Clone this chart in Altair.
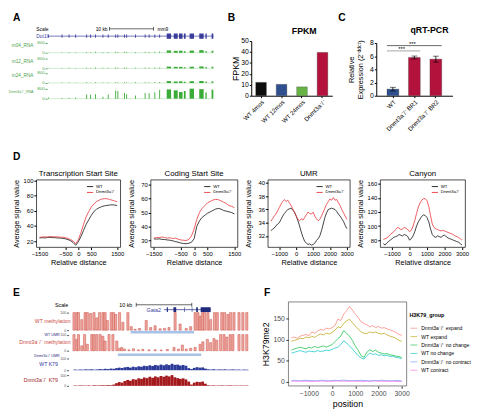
import altair as alt
import pandas as pd

FONT = "Liberation Sans"
KO = "Dnmt3a\u207b/\u207b"

# ================= DATA =================
# --- A: Dot1l RNA-seq browser (positions in kb)
a_tracks = ["m04_RNA", "m12_RNA", "m24_RNA", KO + "_RNA"]
a_exon_start = [0.2, 3.3, 4.9, 6.4, 8.9, 9.8, 10.9, 12.6, 13.8, 15.5, 16.0, 17.5, 18.0,
                20.0, 22.2, 23.1, 24.4, 25.5, 27.2, 28.8, 30.0, 31.1, 32.4, 34.6, 36.0, 37.4]
a_exon_end = [0.4, 3.5, 5.1, 6.6, 9.1, 10.0, 11.1, 12.8, 14.0, 15.7, 16.2, 17.7, 18.2,
              20.2, 22.4, 23.3, 24.6, 25.7, 28.2, 29.7, 30.8, 31.5, 33.4, 35.6, 36.3, 37.8]
a_m04 = [20, 40, 50, 40, 60, 40, 70, 50, 60, 80, 60, 70, 50, 60, 70, 60, 80, 90, 180, 150, 160, 120, 170, 200, 130, 160]
a_m12 = [15, 30, 40, 30, 50, 30, 60, 40, 50, 70, 50, 60, 40, 50, 60, 50, 70, 70, 140, 120, 120, 90, 130, 150, 110, 130]
a_m24 = [15, 35, 40, 30, 55, 30, 60, 45, 50, 70, 50, 60, 40, 55, 60, 50, 70, 75, 150, 120, 130, 100, 140, 160, 110, 130]
a_ko = [100, 60, 80, 90, 320, 300, 340, 150, 330, 640, 600, 450, 350, 250, 440, 430, 500, 700, 720, 650, 520, 600, 780, 740, 480, 700]
a_scale_kb = [14.2, 24.2]

# --- B: FPKM
b_cat = ["WT 4mos", "WT 12mos", "WT 24mos", KO]
b_fpkm = [12.2, 10.4, 8.1, 39.6]

# --- C: qRT-PCR
c_cat = ["WT", KO + " BR1", KO + " BR2"]
c_expr = [1.0, 5.8, 5.55]
c_sd = [0.28, 0.22, 0.45]
c_cmp_to = [KO + " BR1", KO + " BR2"]
c_cmp_y = [6.8, 7.6]

# --- D: profiles
d_tss_x = list(range(-1500, 1501, 100))
d_tss_wt = [24.0, 24.5, 24.2, 24.6, 25.0, 24.6, 24.5, 24.1, 24.0, 23.6, 23.0, 22.0, 20.5, 18.0, 14.5, 19.0,
            26.0, 34.0, 42.0, 48.0, 54.0, 59.0, 62.0, 64.0, 65.5, 66.5, 67.0, 67.5, 68.0, 67.5, 67.0]
d_tss_ko = [25.0, 25.3, 25.6, 25.4, 26.0, 25.8, 25.5, 25.6, 25.0, 25.2, 24.5, 23.5, 22.0, 20.0, 16.5, 22.0,
            31.0, 42.0, 52.0, 59.0, 65.0, 69.0, 72.0, 74.0, 75.5, 76.0, 76.0, 75.0, 74.0, 73.0, 72.0]
d_cds_wt = [31.0, 30.8, 31.0, 30.6, 30.5, 30.2, 30.0, 29.6, 29.0, 28.6, 28.0, 27.6, 27.5, 27.8, 28.5, 31.0,
            40.0, 44.0, 46.5, 48.0, 49.5, 50.5, 51.5, 52.5, 53.0, 52.5, 51.5, 51.0, 50.5, 50.0, 49.0]
d_cds_ko = [31.5, 32.0, 31.8, 32.3, 32.0, 31.5, 31.8, 31.2, 31.5, 30.8, 30.2, 30.0, 29.8, 30.5, 33.0, 38.0,
            45.0, 50.0, 53.0, 55.0, 57.0, 58.0, 59.0, 59.5, 59.3, 58.5, 57.5, 56.5, 55.0, 54.5, 53.5]
d_wide_x = list(range(-1500, 3001, 100))
d_umr_wt = [32.8, 33.0, 33.2, 33.5, 33.8, 34.0, 34.5, 35.0, 35.4, 35.7, 36.0, 36.1, 36.2, 35.9, 35.6, 35.0,
            34.3, 33.5, 32.6, 31.8, 31.2, 30.9, 30.7, 30.8, 30.6, 30.7, 30.9, 31.3, 31.6, 32.0, 32.8, 33.8,
            34.8, 35.5, 36.0, 36.1, 36.2, 36.1, 36.0, 35.7, 35.3, 35.0, 34.6, 34.2, 33.6, 33.1]
d_umr_ko = [34.2, 34.6, 35.0, 35.3, 35.8, 36.3, 36.8, 37.2, 37.5, 37.2, 37.4, 37.0, 36.6, 36.1, 35.5, 35.0,
            34.5, 34.3, 34.6, 34.4, 34.8, 35.2, 35.6, 35.4, 35.3, 35.6, 35.0, 34.6, 34.3, 34.5, 35.0, 35.6,
            36.2, 36.8, 37.2, 37.6, 37.4, 37.8, 37.4, 37.5, 37.0, 36.6, 36.0, 35.5, 35.0, 34.5]
d_can_wt = [75, 73, 76, 78, 80, 82, 84, 85, 86, 88, 87, 86, 88, 87, 85, 80, 82, 86, 92, 100, 106, 110, 114,
            116, 115, 112, 106, 96, 88, 85, 84, 86, 85, 84, 86, 87, 85, 83, 82, 81, 80, 79, 78, 77, 75, 73]
d_can_ko = [81, 82, 83, 85, 88, 90, 92, 95, 98, 97, 95, 96, 98, 97, 95, 92, 94, 100, 108, 118, 127, 133, 137,
            139, 139, 136, 128, 115, 103, 98, 96, 95, 94, 93, 94, 93, 92, 91, 90, 89, 88, 86, 85, 84, 82, 80]

# --- E: Gata2 locus (positions in kb)
e_scale_kb = [11.3, 21.3]
e_gene = [16.3, 24.7]
e_exon_start = [16.8, 18.0, 19.9, 21.3, 22.1, 22.9]
e_exon_end = [17.0, 18.5, 20.0, 21.4, 22.4, 24.7]
e_wt_meth_pos = [0.1, 0.6, 0.9, 1.5, 2.1, 2.5, 3.1, 3.7, 4.2, 4.7, 5.3, 5.7, 6.1, 6.8, 7.2, 7.6, 8.3, 8.9,
                 9.8, 10.4, 11.1, 11.9, 13.1, 13.9, 14.7, 15.6, 16.4, 17.2, 18.3, 19.2, 20.3, 21.1, 21.9,
                 22.4, 22.8, 23.2, 23.6, 24.2, 24.7, 25.4, 25.9, 26.7, 27.2, 27.8, 28.3, 28.9, 29.8, 30.5, 31.2]
e_wt_meth_lvl = [100, 100, 100, 60, 100, 100, 95, 100, 70, 100, 100, 100, 55, 100, 100, 90, 100, 45, 100, 20,
                 5, 10, 55, 15, 25, 8, 10, 15, 100, 35, 10, 20, 100, 100, 80, 100, 100, 100, 60, 100,
                 100, 100, 100, 90, 100, 100, 100, 100, 100]
e_ko_meth_pos = [0.1, 0.6, 0.9, 1.5, 2.0, 2.5, 3.3, 3.7, 4.2, 4.8, 5.3, 5.7, 6.4, 7.1, 7.8, 8.3, 8.7, 9.2,
                 10.0, 10.8, 11.7, 12.5, 13.6, 14.7, 15.8, 16.9, 18.1, 18.9, 19.6, 20.3, 21.1, 21.9, 22.8,
                 23.3, 24.1, 24.7, 25.3, 25.8, 26.5, 27.1, 27.6, 28.2, 28.7, 29.8, 30.5, 31.2]
e_ko_meth_lvl = [100, 70, 100, 30, 100, 40, 100, 100, 100, 100, 90, 60, 100, 100, 60, 15, 20, 10, 5, 12,
                 5, 8, 5, 6, 4, 8, 20, 10, 35, 10, 15, 20, 40, 55, 70, 50, 75, 65, 100, 100,
                 85, 100, 100, 100, 100, 100]
e_umr_wt = [10.3, 21.7]
e_umr_ko = [8.0, 23.0]
e_k79_bins = [i * 0.5 for i in range(63)]
e_k79_wt = [6, 4, 7, 5, 8, 6, 9, 5, 7, 10, 8, 12, 10, 14, 12, 18, 22, 19, 25, 28, 22, 30, 26, 33, 30, 38,
            35, 42, 36, 45, 40, 48, 42, 50, 44, 55, 46, 48, 40, 45, 38, 18, 10, 20, 26, 22, 24, 14, 8, 6,
            9, 5, 7, 6, 8, 5, 6, 7, 5, 6, 4, 6, 5]
e_k79_ko = [4, 3, 5, 4, 3, 5, 4, 6, 4, 5, 6, 5, 7, 6, 12, 25, 35, 30, 45, 55, 48, 62, 58, 70, 65, 78, 72,
            85, 75, 88, 80, 92, 85, 95, 88, 100, 80, 72, 65, 70, 60, 40, 12, 30, 38, 35, 40, 20, 6, 4,
            5, 3, 4, 5, 3, 4, 5, 3, 4, 3, 4, 3, 4]

# --- F: H3K79me2 profiles
f_x = list(range(-1750, 3001, 125))
f_groups = [KO + " expand", "WT expand", KO + " no change", "WT no change", KO + " no contract", "WT contract"]
f_ko_expand = [104, 106, 103, 108, 110, 112, 109, 118, 115, 120, 124, 122, 127, 125, 128, 133, 148, 145, 160,
               168, 178, 170, 160, 152, 142, 138, 135, 130, 133, 128, 131, 127, 128, 125, 123, 120, 117, 112, 110]
f_wt_expand = [96, 98, 100, 103, 102, 106, 104, 108, 105, 110, 113, 111, 115, 113, 117, 122, 130, 128, 138,
               144, 148, 140, 132, 125, 118, 115, 114, 118, 116, 118, 115, 113, 115, 111, 108, 106, 103, 98, 96]
f_ko_nochange = [75, 78, 80, 82, 80, 78, 82, 80, 84, 81, 83, 85, 82, 85, 88, 95, 102, 108, 121, 115, 108, 98,
                 85, 75, 62, 58, 70, 76, 72, 75, 70, 68, 66, 67, 64, 63, 61, 60, 58]
f_wt_nochange = [68, 70, 72, 74, 72, 70, 73, 72, 71, 74, 72, 73, 75, 74, 77, 80, 82, 88, 97, 92, 85, 78, 70,
                 62, 57, 54, 62, 68, 65, 66, 63, 64, 62, 63, 60, 61, 58, 57, 55]
f_ko_nocontract = [3, 4, 3, 2.5, 3.5, 4, 3, 3.5, 2.5, 3, 4, 3.5, 3, 2.5, 3.5, 4, 3, 3.5, 4.5, 3.5, 3, 2.5,
                   3.5, 3, 4, 3.5, 3, 2.5, 3, 3.5, 3, 4, 3.5, 3, 2.5, 3, 3.5, 3, 2.5]
f_wt_contract = [1.5, 2, 1.5, 2.5, 1.5, 2, 1.5, 1, 2, 1.5, 2, 2.5, 1.5, 2, 1.5, 2, 2.5, 2, 2, 1.5, 2, 2.5,
                 1.5, 2, 1.5, 1, 2, 1.5, 2, 2.5, 1.5, 2, 1.5, 2, 1.5, 2, 1.5, 1, 1.5]

# ================= STYLE =================
GREEN = "#3aab36"
GREEN_TXT = "#4c9f4c"
GENE = "#3b3d9b"
NAVY = "#1f2a7c"
METH = "#cc4a40"
METH_FILL = "#eea9a2"
UMR_C = "#a9c3e8"
K79_WT = "#2b3a98"
K79_KO = "#a3191c"
BLUE = "#2f4f8f"
CRIMSON = "#b3123c"
D_RED = "#e8353a"
F_COLORS = ["#F8766D", "#B79F00", "#00BA38", "#00BFC4", "#619CFF", "#F564E3"]


def txt(s, x, y, size=6.0, color="black", align="left", baseline="middle", weight="normal"):
    return alt.Chart(pd.DataFrame({"t": [s]})).mark_text(
        align=align, baseline=baseline, fontSize=size, color=color, fontWeight=weight
    ).encode(text="t:N", x=alt.value(x), y=alt.value(y))


def letter(s, x, y):
    return txt(s, x, y, size=10.5, weight="bold", baseline="top")


def spacer(y):
    return alt.Chart(pd.DataFrame({"t": [0]})).mark_point(size=1, opacity=0).encode(
        x=alt.value(0), y=alt.value(y))


# ================= PANEL A =================
A_W, A_H = 175, 80
a_base = [29, 45, 60, 76]
a_label_size = [4.8, 4.8, 4.8, 3.6]
a_xs = alt.Scale(domain=[0, 38.2], range=[11, 183], nice=False, zero=False)
AX = alt.X("s:Q", scale=a_xs, axis=None)
a_exons = pd.DataFrame({"s": a_exon_start, "e": a_exon_end})
a_span = pd.DataFrame({"s": [a_exon_start[0]], "e": [a_exon_end[-1]]})

a_layers = [
    alt.Chart(a_span).mark_rule(color=GENE, strokeWidth=0.7).encode(x=AX, x2="e:Q", y=alt.value(12)),
    alt.Chart(a_exons.iloc[:18]).mark_rect(color=GENE).encode(x=AX, x2="e:Q", y=alt.value(10.3), y2=alt.value(13.7)),
    alt.Chart(a_exons.iloc[18:]).mark_rect(color=GENE).encode(x=AX, x2="e:Q", y=alt.value(9.3), y2=alt.value(14.7)),
    alt.Chart(pd.DataFrame({"s": [a_scale_kb[0]], "e": [a_scale_kb[1]]})).mark_rule(color="black", strokeWidth=0.6).encode(
        x=AX, x2="e:Q", y=alt.value(4.5)),
    alt.Chart(pd.DataFrame({"s": a_scale_kb})).mark_rule(color="black", strokeWidth=0.6).encode(
        x=AX, y=alt.value(2.5), y2=alt.value(6.5)),
    alt.Chart(pd.DataFrame({"s": [a_scale_kb[0]], "t": ["10 kb"]})).mark_text(align="right", dx=-2, fontSize=5).encode(
        x=AX, y=alt.value(4.5), text="t:N"),
    alt.Chart(pd.DataFrame({"s": [a_scale_kb[1]], "t": ["mm9"]})).mark_text(align="left", dx=4, fontSize=5).encode(
        x=AX, y=alt.value(4.5), text="t:N"),
    txt("Scale", 0, 4.5, 5),
    txt("Dot1l", 0, 12, 5, GENE),
]
for i, (name, vals) in enumerate(zip(a_tracks, [a_m04, a_m12, a_m24, a_ko])):
    b = a_base[i]
    a_layers.append(alt.Chart(a_span).mark_rule(color=GREEN, strokeWidth=0.4, opacity=0.6).encode(
        x=AX, x2="e:Q", y=alt.value(b)))
    a_layers.append(
        alt.Chart(pd.DataFrame({"s": a_exon_start, "e": a_exon_end, "h": vals, "z": [0] * len(vals)}))
        .mark_rect(color=GREEN).encode(
            x=AX, x2="e:Q",
            y=alt.Y("h:Q", scale=alt.Scale(domain=[0, 800], range=[b, b - 10.5], nice=False),
                    axis=alt.Axis(orient="left", offset=-11, values=[0, 800], title=None, domain=False, grid=False,
                                  tickSize=2, tickColor=GREEN_TXT, labelColor=GREEN_TXT, labelFontSize=4.5,
                                  labelPadding=1)),
            y2="z:Q"))
    a_layers.append(txt(name, -3, b - 7, a_label_size[i], GREEN_TXT, align="right"))
a_layers += [letter("A", -24, -12), spacer(113)]
panel_a = alt.layer(*a_layers).resolve_scale(y="independent").properties(width=A_W, height=A_H)

# ================= PANEL B =================
B_W, B_H = 83, 73
b_xaxis = alt.Axis(title=None, labelAngle=-45, labelFontSize=6.3, tickSize=2, labelPadding=1, labelOverlap=False,
                   domainColor="black", tickColor="black", labelColor="black")
b_bars = alt.Chart(pd.DataFrame({"cat": b_cat, "v": b_fpkm})).mark_bar(stroke="#333333", strokeWidth=0.3).encode(
    x=alt.X("cat:N", scale=alt.Scale(domain=b_cat, paddingInner=0.48, paddingOuter=0.22), axis=b_xaxis),
    y=alt.Y("v:Q", scale=alt.Scale(domain=[0, 50], range=[B_H, 17], nice=False),
            axis=alt.Axis(values=[0, 10, 20, 30, 40, 50], title="FPKM", titleFontSize=9, titleFontWeight="normal",
                          labelFontSize=7, tickSize=2, labelPadding=1, titlePadding=0, grid=False,
                          domainColor="black", tickColor="black", labelColor="black")),
    color=alt.Color("cat:N", scale=alt.Scale(domain=b_cat, range=["#0d0d0d", BLUE, "#67b346", CRIMSON]), legend=None),
)
panel_b = alt.layer(b_bars, txt("FPKM", 41.5, 7, 9, weight="bold"), letter("B", -24, -12)).properties(
    width=B_W, height=B_H)

# ================= PANEL C =================
C_W, C_H = 78, 73
c_xs = alt.Scale(domain=c_cat, paddingInner=0.45, paddingOuter=0.5)
c_ys = alt.Scale(domain=[0, 8], range=[C_H, 19], nice=False)
c_xaxis = alt.Axis(title=None, labelAngle=-45, labelFontSize=6.3, tickSize=2, labelPadding=1, labelOverlap=False,
                   domainColor="black", tickColor="black", labelColor="black")
c_yaxis = alt.Axis(values=[0, 2, 4, 6, 8], title=["Relative", "Expression (2\u207b\u1d48\u1d48\u1d9c\u1d57)"],
                   titleFontSize=7.5, titleFontWeight="normal", labelFontSize=7, tickSize=2, labelPadding=1,
                   titlePadding=5, grid=False, domainColor="black", tickColor="black", labelColor="black")
c_df = pd.DataFrame({"cat": c_cat, "v": c_expr, "sd": c_sd})
c_bars = alt.Chart(c_df).mark_bar(stroke="#333333", strokeWidth=0.3).encode(
    x=alt.X("cat:N", scale=c_xs, axis=c_xaxis),
    y=alt.Y("v:Q", scale=c_ys, axis=c_yaxis),
    color=alt.Color("cat:N", scale=alt.Scale(domain=c_cat, range=[BLUE, CRIMSON, CRIMSON]), legend=None),
)
c_err_base = alt.Chart(c_df).transform_calculate(lo="datum.v - datum.sd", hi="datum.v + datum.sd")
c_err = c_err_base.mark_rule(color="black", strokeWidth=0.8).encode(
    x=alt.X("cat:N", scale=c_xs, axis=c_xaxis), y=alt.Y("lo:Q", scale=c_ys, axis=c_yaxis), y2="hi:Q")
c_cap_lo = c_err_base.mark_tick(color="black", size=6, thickness=0.8).encode(
    x=alt.X("cat:N", scale=c_xs, axis=c_xaxis), y=alt.Y("lo:Q", scale=c_ys, axis=c_yaxis))
c_cap_hi = c_err_base.mark_tick(color="black", size=6, thickness=0.8).encode(
    x=alt.X("cat:N", scale=c_xs, axis=c_xaxis), y=alt.Y("hi:Q", scale=c_ys, axis=c_yaxis))
c_layers = [c_bars, c_err, c_cap_lo, c_cap_hi]
c_line_colors = ["#9b9b9b", "#555555"]
c_star_dx = [3, 14]
for i in range(len(c_cmp_to)):
    d = pd.DataFrame({"a": ["WT"], "b": [c_cmp_to[i]], "y": [c_cmp_y[i]], "t": ["***"]})
    c_layers.append(alt.Chart(d).mark_rule(color=c_line_colors[i], strokeWidth=0.9).encode(
        x=alt.X("a:N", scale=c_xs, axis=c_xaxis, bandPosition=0),
        x2=alt.X2("b:N", bandPosition=1),
        y=alt.Y("y:Q", scale=c_ys, axis=c_yaxis)))
    c_layers.append(alt.Chart(d).mark_text(fontSize=6, baseline="bottom", dx=c_star_dx[i], dy=1).encode(
        x=alt.X("a:N", scale=c_xs, axis=c_xaxis, bandPosition=1),
        y=alt.Y("y:Q", scale=c_ys, axis=c_yaxis), text="t:N"))
c_layers += [txt("qRT-PCR", 35, 6, 9, weight="bold"), letter("C", -39, -12)]
panel_c = alt.layer(*c_layers).properties(width=C_W, height=C_H)

# ================= PANEL D =================
D_H = 69
D_AX = dict(titleFontSize=7.5, titleFontWeight="normal", labelFontSize=6, tickSize=2.5, labelPadding=1,
            titlePadding=2, domain=False, grid=False, labelOverlap=False, labelFlush=False,
            tickColor="black", labelColor="black", titleColor="black", format="d")


def d_panel(title, xs, wt, ko, xdom, ydom, xticks, yticks, width, extra=()):
    n = len(xs)
    df = pd.DataFrame({"x": xs + xs, "v": wt + ko, "g": ["WT"] * n + [KO] * n})
    line = alt.Chart(df).mark_line(strokeWidth=0.8).encode(
        x=alt.X("x:Q", scale=alt.Scale(domain=xdom, nice=False, zero=False),
                axis=alt.Axis(values=xticks, title="Relative distance", **D_AX)),
        y=alt.Y("v:Q", scale=alt.Scale(domain=ydom, nice=False, zero=False),
                axis=alt.Axis(values=yticks, title="Average signal value", titleX=-16, **D_AX)),
        color=alt.Color("g:N", scale=alt.Scale(domain=["WT", KO], range=["#111111", D_RED]),
                        legend=alt.Legend(orient="top-right", title=None, labelFontSize=4.5, symbolType="stroke",
                                          symbolSize=40, symbolStrokeWidth=0.9, rowPadding=0, offset=3, padding=0,
                                          labelOffset=2)),
    )
    return alt.layer(line, txt(title, width / 2, -6, 8, align="center"), *extra).properties(
        width=width, height=D_H,
        view=alt.ViewBackground(stroke="black", strokeWidth=0.7))


d1 = d_panel("Transcription Start Site", d_tss_x, d_tss_wt, d_tss_ko, [-1620, 1620], [12, 101],
             [-1500, -500, 0, 500, 1500], [20, 40, 60, 80, 100], 86, extra=(letter("D", -24, -28), spacer(93)))
d2 = d_panel("Coding Start Site", d_tss_x, d_cds_wt, d_cds_ko, [-1620, 1620], [25, 73.7],
             [-1500, -500, 0, 500, 1500], [30, 40, 50, 60, 70], 89)
d3 = d_panel("UMR", d_wide_x, d_umr_wt, d_umr_ko, [-1680, 3180], [30.3, 40.5],
             [-1000, 0, 1000, 2000, 3000], [32, 34, 36, 38, 40], 84)
d4 = d_panel("Canyon", d_wide_x, d_can_wt, d_can_ko, [-1680, 3180], [70, 166],
             [-1000, 0, 1000, 2000, 3000], [80, 100, 120, 140, 160], 87)

# ================= PANEL E =================
E_W, E_H = 221, 90
e_xs = alt.Scale(domain=[0, 31.3], range=[33, 221], nice=False, zero=False)
EX = alt.X("s:Q", scale=e_xs, axis=None)


def e_axis():
    return alt.Axis(orient="left", offset=-33, values=[0, 100], title=None, domain=False, grid=False,
                    tickSize=2, tickColor="#555555", labelColor="#555555", labelFontSize=3.6, labelPadding=1)


e_layers = [
    alt.Chart(pd.DataFrame({"s": [e_scale_kb[0]], "e": [e_scale_kb[1]]})).mark_rule(color="black", strokeWidth=0.6).encode(
        x=EX, x2="e:Q", y=alt.value(3)),
    alt.Chart(pd.DataFrame({"s": e_scale_kb})).mark_rule(color="black", strokeWidth=0.6).encode(
        x=EX, y=alt.value(1), y2=alt.value(5)),
    alt.Chart(pd.DataFrame({"s": [e_scale_kb[0]], "t": ["10 kb"]})).mark_text(align="right", dx=-4, fontSize=5.5).encode(
        x=EX, y=alt.value(3), text="t:N"),
    txt("Scale", 19, 3, 5.5),
    alt.Chart(pd.DataFrame({"s": [e_gene[0]], "e": [e_gene[1]]})).mark_rule(color=NAVY, strokeWidth=0.7).encode(
        x=EX, x2="e:Q", y=alt.value(8)),
    alt.Chart(pd.DataFrame({"s": e_exon_start, "e": e_exon_end})).mark_rect(color=NAVY).encode(
        x=EX, x2="e:Q", y=alt.value(5.5), y2=alt.value(10.5)),
    alt.Chart(pd.DataFrame({"s": [e_gene[0]], "t": ["Gata2"]})).mark_text(align="right", dx=-3, fontSize=5.5, color=GENE).encode(
        x=EX, y=alt.value(8), text="t:N"),
]
e_meth = [
    ("WT methylation", e_wt_meth_pos, e_wt_meth_lvl, 29, 11, 20, e_umr_wt, 29.7, 32.5, "WT UMR", 33.5),
    (KO + " methylation", e_ko_meth_pos, e_ko_meth_lvl, 50, 33.5, 41, e_umr_ko, 53, 55.5, KO + " UMR", 55.5),
]
for name, pos, lvl, base, top, ly, umr, u0, u1, uname, uly in e_meth:
    e_layers.append(alt.Chart(pd.DataFrame({"s": pos, "m": lvl})).mark_bar(
        size=2.2, fill=METH_FILL, stroke=METH, strokeWidth=0.5).encode(
        x=EX, y=alt.Y("m:Q", scale=alt.Scale(domain=[0, 100], range=[base, top], nice=False), axis=e_axis())))
    e_layers.append(txt(name, 35, ly, 5.3, METH, align="right"))
    e_layers.append(alt.Chart(pd.DataFrame({"s": [umr[0]], "e": [umr[1]]})).mark_rect(color=UMR_C).encode(
        x=EX, x2="e:Q", y=alt.value(u0), y2=alt.value(u1)))
    e_layers.append(txt(uname, 24, uly, 3.8, NAVY, align="right"))
e_k79 = [("WT K79", e_k79_wt, 70, 58, 64, K79_WT), (KO + " K79", e_k79_ko, 86, 75, 80, K79_KO)]
for name, vals, base, top, ly, col in e_k79:
    e_layers.append(
        alt.Chart(pd.DataFrame({"s": e_k79_bins, "e": [b + 0.5 for b in e_k79_bins], "h": vals,
                                "z": [0] * len(vals)}))
        .mark_rect(color=col).encode(
            x=EX, x2="e:Q",
            y=alt.Y("h:Q", scale=alt.Scale(domain=[0, 100], range=[base, top], nice=False), axis=e_axis()),
            y2="z:Q"))
    e_layers.append(txt(name, 22, ly, 5.3, col, align="right"))
e_layers.append(letter("E", -24, -14))
panel_e = alt.layer(*e_layers).resolve_scale(y="independent").properties(width=E_W, height=E_H)

# ================= PANEL F =================
F_W, F_H = 121, 86
f_series = [f_ko_expand, f_wt_expand, f_ko_nochange, f_wt_nochange, f_ko_nocontract, f_wt_contract]
f_df = pd.DataFrame({
    "x": f_x * len(f_groups),
    "v": [v for s in f_series for v in s],
    "g": [g for g in f_groups for _ in f_x],
})
F_AX = dict(titleFontSize=9, titleFontWeight="normal", labelFontSize=7, labelColor="#4d4d4d",
            tickColor="#333333", tickSize=2.5, labelPadding=1.5, titlePadding=3, domain=False, grid=False,
            labelOverlap=False, labelFlush=False, titleColor="black")
f_lines = alt.Chart(f_df).mark_line(strokeWidth=0.7).encode(
    x=alt.X("x:Q", scale=alt.Scale(domain=[-1884, 3210], nice=False, zero=False),
            axis=alt.Axis(values=[-1000, 0, 1000, 2000, 3000], format="d", title="position", **F_AX)),
    y=alt.Y("v:Q", scale=alt.Scale(domain=[-9.2, 189], nice=False, zero=False),
            axis=alt.Axis(values=[0, 50, 100, 150], title="H3K79me2", **F_AX)),
    color=alt.Color("g:N", scale=alt.Scale(domain=f_groups, range=F_COLORS),
                    legend=alt.Legend(title="H3K79_group", orient="none", legendX=124, legendY=12,
                                      titleFontSize=5.5, titleFontWeight="bold", labelFontSize=5.2,
                                      symbolType="stroke", symbolSize=50, symbolStrokeWidth=1,
                                      symbolOpacity=0.6, rowPadding=0.6, titlePadding=5, labelOffset=3,
                                      labelLimit=80)),
)
panel_f = alt.layer(f_lines, letter("F", -25, -14)).properties(
    width=F_W, height=F_H, view=alt.ViewBackground(stroke="#333333", strokeWidth=0.6))

# ================= ASSEMBLY =================
row1 = alt.hconcat(panel_a, panel_b, panel_c, spacing=45, bounds="flush").resolve_scale(color="independent")
row2 = alt.hconcat(d1, d2, d3, d4, spacing=31, bounds="flush").resolve_scale(color="independent")
row3 = alt.hconcat(panel_e, panel_f, spacing=37, bounds="flush").resolve_scale(color="independent")

chart = (
    alt.vconcat(row1, row2, row3, spacing=16)
    .resolve_scale(color="independent")
    .properties(padding=0, background="white")
    .configure(font=FONT)
    .configure_view(strokeWidth=0)
)

chart.save("out.html", embed_options={"renderer": "svg", "actions": False})
